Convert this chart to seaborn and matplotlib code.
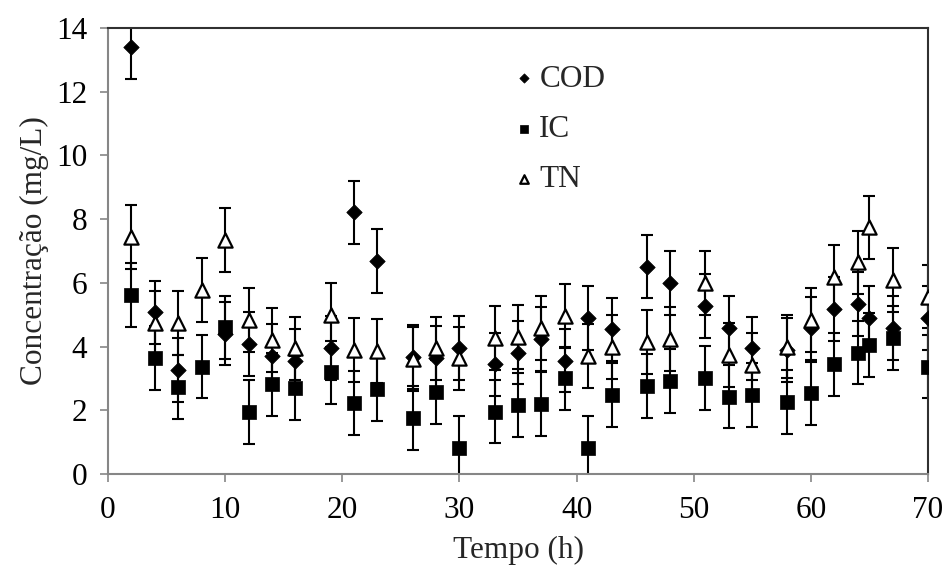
import matplotlib
matplotlib.use("Agg")
import matplotlib.pyplot as plt
import seaborn as sns
import pandas as pd

# ---- data ----
cod_t = [2, 4, 6, 10, 12, 14, 16, 19, 21, 23, 26, 28, 30, 33, 35, 37, 39, 41, 43,
         46, 48, 51, 53, 55, 58, 60, 62, 64, 65, 67, 70]
cod_v = [13.41, 5.07, 3.26, 4.41, 4.07, 3.71, 3.56, 3.96, 8.21, 6.69, 3.68, 3.65, 3.96,
         3.44, 3.81, 4.23, 3.56, 4.89, 4.54, 6.51, 6.00, 5.27, 4.59, 3.94, 3.89, 4.57,
         5.17, 5.34, 4.89, 4.59, 4.89]

ic_t = [2, 4, 6, 8, 10, 12, 14, 16, 19, 21, 23, 26, 28, 30, 33, 35, 37, 39, 41, 43,
        46, 48, 51, 53, 55, 58, 60, 62, 64, 65, 67, 70]
ic_v = [5.62, 3.65, 2.74, 3.37, 4.60, 1.94, 2.81, 2.71, 3.19, 2.22, 2.66, 1.75, 2.58,
        0.81, 1.96, 2.17, 2.20, 3.00, 0.81, 2.48, 2.77, 2.93, 3.02, 2.43, 2.48, 2.27,
        2.53, 3.44, 3.81, 4.05, 4.26, 3.37]

tn_t = [2, 4, 6, 8, 10, 12, 14, 16, 19, 21, 23, 26, 28, 30, 33, 35, 37, 39, 41, 43,
        46, 48, 51, 53, 55, 58, 60, 62, 64, 65, 67, 70]
tn_v = [7.45, 4.73, 4.73, 5.78, 7.34, 4.83, 4.21, 3.94, 4.99, 3.89, 3.86, 3.60, 3.94,
        3.63, 4.26, 4.31, 4.59, 4.96, 3.70, 3.98, 4.15, 4.23, 6.00, 3.73, 3.42, 4.00,
        4.83, 6.19, 6.64, 7.74, 6.09, 5.57]

err = 1.0  # error bar half-length (mg/L)

x_ticks = [0, 10, 20, 30, 40, 50, 60, 70]
y_ticks = [0, 2, 4, 6, 8, 10, 12, 14]

df_cod = pd.DataFrame({"t": cod_t, "v": cod_v})
df_ic = pd.DataFrame({"t": ic_t, "v": ic_v})
df_tn = pd.DataFrame({"t": tn_t, "v": tn_v})

# ---- style ----
sns.set_theme(style="white")
plt.rcParams["font.family"] = ["Liberation Serif", "DejaVu Serif"]

FS = 22.5

fig = plt.figure(figsize=(9.46, 5.72), dpi=100)
ax = fig.add_axes([108 / 946, 1 - 474 / 572, 820 / 946, 446 / 572])

ekw = dict(fmt="none", ecolor="black", elinewidth=1.5, capsize=4.2, capthick=1.5)
ax.errorbar(df_cod["t"], df_cod["v"], yerr=err, zorder=2, **ekw)
ax.errorbar(df_ic["t"], df_ic["v"], yerr=err, zorder=2, **ekw)
ax.errorbar(df_tn["t"], df_tn["v"], yerr=err, zorder=2, **ekw)

sns.scatterplot(data=df_cod, x="t", y="v", marker="D", s=62, color="black",
                edgecolor="black", linewidth=0.5, ax=ax, zorder=3, label="COD")
sns.scatterplot(data=df_ic, x="t", y="v", marker="s", s=110, color="black",
                edgecolor="black", linewidth=0.5, ax=ax, zorder=4, label="IC")
sns.scatterplot(data=df_tn, x="t", y="v", marker="^", s=105, color="white",
                edgecolor="black", linewidth=1.6, ax=ax, zorder=5, label="TN")

ax.set_xlim(0, 70)
ax.set_ylim(0, 14)
ax.set_xticks(x_ticks)
ax.set_yticks(y_ticks)
ax.tick_params(axis="both", labelsize=FS, colors="#868686", labelcolor="black",
               length=6, width=1.2, direction="out")
ax.tick_params(axis="x", pad=10)
ax.tick_params(axis="y", pad=9)
ax.tick_params(bottom=True, left=True)

for side in ["left", "bottom"]:
    ax.spines[side].set_color("#868686")
    ax.spines[side].set_linewidth(1.5)
for side in ["top", "right"]:
    ax.spines[side].set_color("#303030")
    ax.spines[side].set_linewidth(1.5)
    ax.spines[side].set_visible(True)

ax.set_xlabel("Tempo (h)", fontsize=FS, labelpad=8)
ax.set_ylabel("Concentração (mg/L)", fontsize=FS, labelpad=5)

leg = ax.legend(loc="upper left", bbox_to_anchor=(494 / 946, 1 - 49 / 572),
                bbox_transform=fig.transFigure, frameon=False, fontsize=FS,
                markerscale=0.6, handletextpad=0.05, labelspacing=0.68,
                borderpad=0, handlelength=0.9)

fig.savefig("out.png", dpi=100)
